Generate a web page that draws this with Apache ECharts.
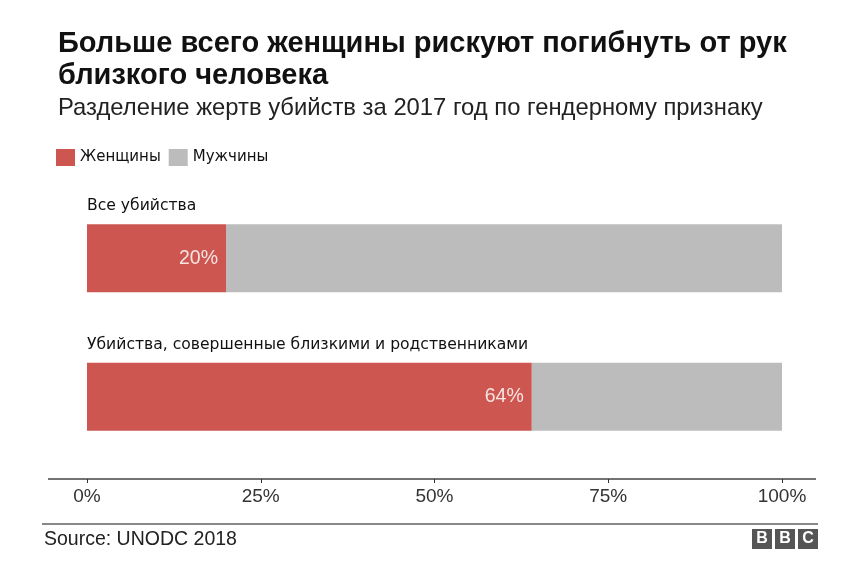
<!DOCTYPE html>
<html><head><meta charset="utf-8">
<script src="https://cdn.jsdelivr.net/npm/echarts@6/dist/echarts.min.js"></script>
<style>html,body{margin:0;padding:0;background:#fff}#c{width:856px;height:565px}</style>
</head><body><div id="c"></div>
<script>
const categories = ['Все убийства', 'Убийства, совершенные близкими и родственниками'];
const women = [20, 64];
const men = [80, 36];
const seriesNames = ['Женщины', 'Мужчины'];
const tickValues = [0, 25, 50, 75, 100];

const chart = echarts.init(document.getElementById('c'));
const RED = '#cd5750', GREY = '#bcbcbc';
chart.setOption({
  animation: false,
  title: [
    {text: 'Больше всего женщины рискуют погибнуть от рук\nблизкого человека', left: 53, top: 23,
     textStyle: {fontFamily: 'Liberation Sans', fontWeight: 'bold', fontSize: 29, lineHeight: 32, color: '#111'}},
    {text: 'Разделение жертв убийств за 2017 год по гендерному признаку', left: 53, top: 91,
     textStyle: {fontFamily: 'Liberation Sans', fontWeight: 'normal', fontSize: 23.8, color: '#222'}}
  ],
  legend: {left: 51, top: 144, itemWidth: 19, itemHeight: 17, itemGap: 8, icon: 'rect',
    data: seriesNames, textStyle: {fontFamily: 'DejaVu Sans', fontSize: 15, color: '#111', padding: [2,0,0,0]}},
  grid: {left: 87, right: 74, top: 189, height: 277},
  xAxis: {type: 'value', min: 0, max: 100, interval: 25, position: 'bottom', offset: 13,
    axisLine: {show: false}, splitLine: {show: false},
    axisTick: {show: true, length: 4, lineStyle: {color: '#333'}},
    axisLabel: {formatter: v => v + '%', fontFamily: 'Liberation Sans', fontSize: 19, color: '#333', margin: 8}},
  yAxis: {type: 'category', data: categories, inverse: true,
    axisLine: {show: false}, axisTick: {show: false},
    axisLabel: {inside: true, margin: 0, align: 'left', verticalAlign: 'bottom', padding: [0,0,44,0],
      fontFamily: 'DejaVu Sans', fontSize: 15.6, color: '#111'}},
  series: [
    {name: seriesNames[0], type: 'bar', stack: 't', data: women, barWidth: 68, itemStyle: {color: RED},
     label: {show: true, position: 'insideRight', distance: 8, formatter: '{c}%', fontFamily: 'Liberation Sans', fontSize: 19.5, color: '#f6e4e2'}},
    {name: seriesNames[1], type: 'bar', stack: 't', data: men, barWidth: 68, itemStyle: {color: GREY}}
  ],
  graphic: [
    {type: 'line', shape: {x1: 48, y1: 479, x2: 816, y2: 479}, style: {stroke: '#444', lineWidth: 1.5}},
    {type: 'line', shape: {x1: 42, y1: 524, x2: 818, y2: 524}, style: {stroke: '#888', lineWidth: 2}},
    {type: 'text', left: 44, top: 530, style: {text: 'Source: UNODC 2018', font: '19.5px "Liberation Sans"', fill: '#222'}},
    {type: 'rect', shape: {x: 752, y: 529, width: 20, height: 20}, style: {fill: '#555'}},
    {type: 'rect', shape: {x: 775, y: 529, width: 20, height: 20}, style: {fill: '#555'}},
    {type: 'rect', shape: {x: 798, y: 529, width: 20, height: 20}, style: {fill: '#555'}},
    {type: 'text', x: 762, y: 539, style: {text: 'B', font: 'bold 16px "Liberation Sans"', fill: '#fff', align: 'center', verticalAlign: 'middle'}},
    {type: 'text', x: 785, y: 539, style: {text: 'B', font: 'bold 16px "Liberation Sans"', fill: '#fff', align: 'center', verticalAlign: 'middle'}},
    {type: 'text', x: 808, y: 539, style: {text: 'C', font: 'bold 16px "Liberation Sans"', fill: '#fff', align: 'center', verticalAlign: 'middle'}}
  ]
});
</script></body></html>
